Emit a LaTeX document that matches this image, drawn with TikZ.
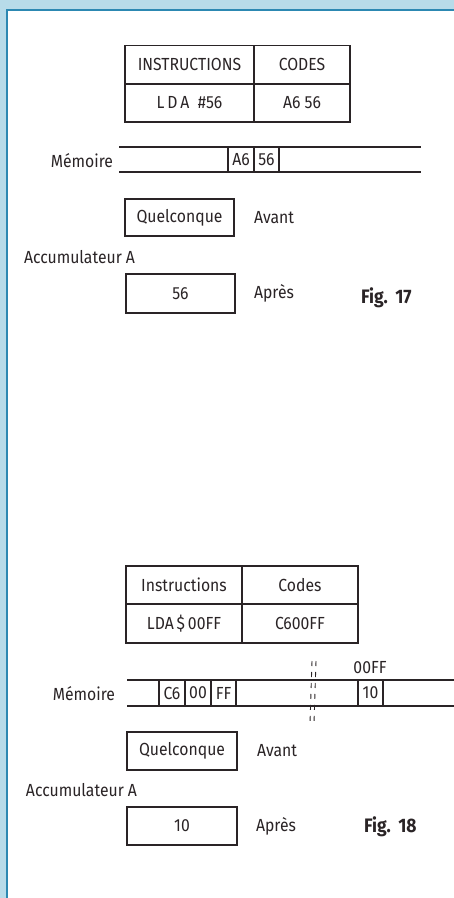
\documentclass[tikz,border=0pt]{standalone}
\usepackage{fontspec}
\setmainfont[FakeStretch=0.9]{Fira Sans}
\usetikzlibrary{positioning}
\definecolor{ink}{HTML}{2A2426}
\definecolor{paleblue}{HTML}{B7DBE9}
\definecolor{edgeblue}{HTML}{2C88B2}
\begin{document}
\begin{tikzpicture}[
  x=1pt, y=-1pt,
  every node/.style={text=ink, font=\fontsize{17.5}{20}\selectfont, inner sep=0pt, outer sep=0pt},
  cell/.style={draw=ink, line width=1.7pt, minimum height=38pt},
  mcell/.style={draw=ink, line width=1.3pt, minimum height=25pt, minimum width=25pt},
  lbl/.style={anchor=west},
  fig/.style={anchor=west, font=\fontsize{19.5}{22}\selectfont\bfseries},
  strip/.style={draw=ink, line width=1.7pt},
  brk/.style={draw=ink, line width=0.9pt, dash pattern=on 5pt off 6pt}
]
\useasboundingbox (0,0) rectangle (454,898);
\fill[paleblue] (0,0) rectangle (454,898);
\fill[white] (7,11) rectangle (454,898);
\draw[edgeblue, line width=2pt] (6.5,898) -- (6.5,10) -- (454,10);

% Fig. 17
\node[cell, minimum width=129pt] (ins17) at (189.5,64.5) {INSTRUCTIONS};
\node[cell, minimum width=96pt] (cod17) at (302,64.5) {CODES};
\node[cell, minimum width=129pt] (lda17) at (189.5,103) {L\,D\,A \ \#56};
\node[cell, minimum width=96pt] (hex17) at (302,103) {A6 56};
\coordinate (s17tl) at (119,147); \coordinate (s17tr) at (421,147);
\coordinate (s17bl) at (119,172); \coordinate (s17br) at (421,172);
\draw[strip] (s17tl) -- (s17tr);
\draw[strip] (s17bl) -- (s17br);
\node[mcell, minimum width=26pt] (ma17) at (241,159.5) {A6};
\node[mcell] (mb17) at (266.5,159.5) {56};
\node[anchor=east] (mem17) at (113,161) {Mémoire};
\node[cell, minimum width=109pt, minimum height=37pt] (av17) at (179.5,217.5) {Quelconque};
\node[lbl] (avt17) at (254,218) {Avant};
\node[lbl] (acc17) at (24,257) {Accumulateur A};
\node[cell, minimum width=109pt, minimum height=39pt] (ap17) at (180.5,293.5) {56};
\node[lbl] (apt17) at (254,293) {Après};
\node[fig] (fig17) at (361,298) {Fig.\ \,17};

% Fig. 18
\node[cell, minimum width=116pt] (ins18) at (184,585) {Instructions};
\node[cell, minimum width=116pt] (cod18) at (300,585) {Codes};
\node[cell, minimum width=116pt, minimum height=39pt] (lda18) at (184,623.5) {LDA\,\$\,00FF};
\node[cell, minimum width=116pt, minimum height=39pt] (hex18) at (300,623.5) {C600FF};
\coordinate (s18tl) at (127,680); \coordinate (s18tr) at (455,680);
\coordinate (s18bl) at (127,706); \coordinate (s18br) at (455,706);
\draw[strip] (s18tl) -- (s18tr);
\draw[strip] (s18bl) -- (s18br);
\node[mcell, minimum height=26pt, minimum width=26pt] (ma18) at (172,693) {C6};
\node[mcell, minimum height=26pt, minimum width=26pt] (mb18) at (198,693) {00};
\node[mcell, minimum height=26pt] (mc18) at (223.5,693) {FF};
\node[mcell, minimum height=26pt] (md18) at (370.5,693) {10};
\node (adr18) at (370,668) {00FF};
\coordinate (b1t) at (312,661); \coordinate (b1b) at (310,723);
\coordinate (b2t) at (316,661); \coordinate (b2b) at (314,723);
\draw[brk] (b1t) -- (b1b);
\draw[brk] (b2t) -- (b2b);
\node[anchor=east] (mem18) at (115,694) {Mémoire};
\node[cell, minimum width=110pt] (av18) at (182,751) {Quelconque};
\node[lbl] (avt18) at (257,751) {Avant};
\node[lbl] (acc18) at (26,790) {Accumulateur A};
\node[cell, minimum width=110pt] (ap18) at (182,826) {10};
\node[lbl] (apt18) at (256,826) {Après};
\node[fig] (fig18) at (364,827) {Fig.\ \,18};
\end{tikzpicture}
\end{document}
